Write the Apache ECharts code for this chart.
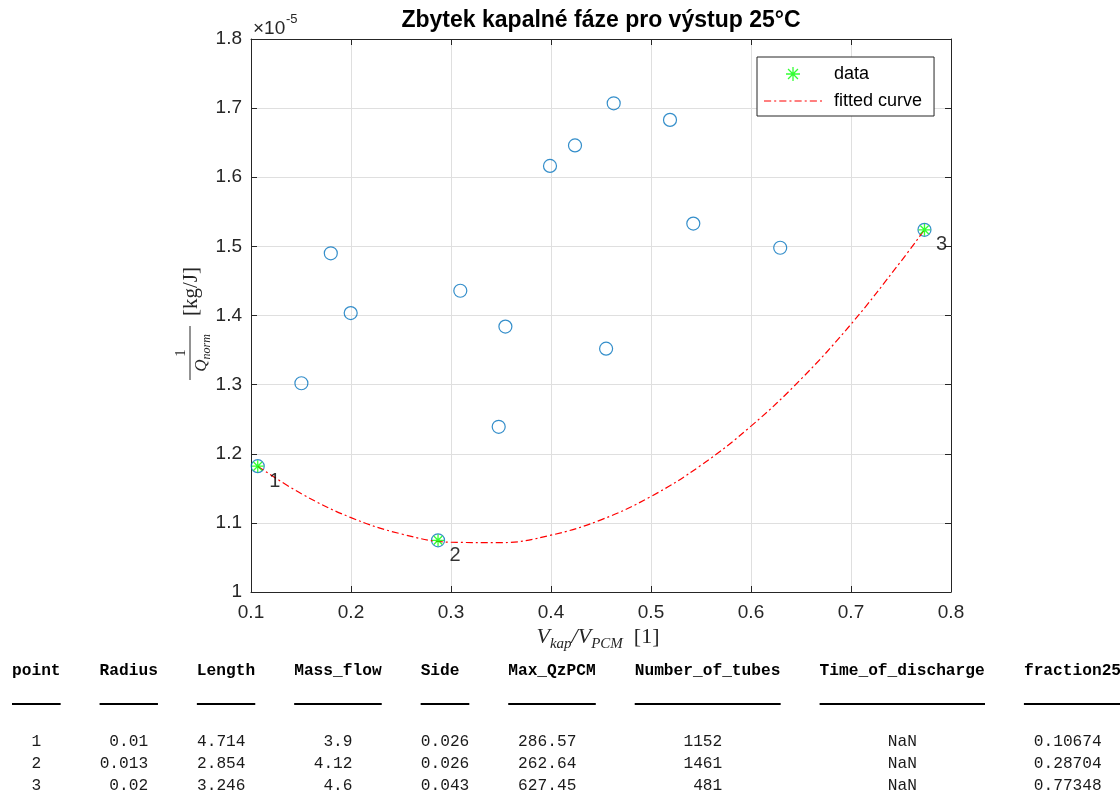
<!DOCTYPE html>
<html><head><meta charset="utf-8">
<script src="https://cdn.jsdelivr.net/npm/echarts@6/dist/echarts.min.js"></script>
<style>html,body{margin:0;padding:0;background:#fff}#c{width:1120px;height:796px}</style>
</head><body><div id="c"></div>
<script>
// ---------- data ----------
const chartTitle = 'Zbytek kapalné fáze pro výstup 25°C';
const yExponent = '-5';
// all candidate designs (y in units of 1e-5 kg/J)
const candX = [0.10674, 0.1504, 0.1798, 0.1997, 0.28704, 0.3093, 0.3477, 0.3544, 0.3990, 0.4240, 0.4627, 0.4551, 0.5190, 0.5423, 0.6292, 0.77348];
const candY = [1.182, 1.302, 1.490, 1.4035, 1.0748, 1.4358, 1.239, 1.384, 1.6164, 1.646, 1.707, 1.352, 1.683, 1.533, 1.498, 1.524];
// selected points
const selX = [0.10674, 0.28704, 0.77348];
const selY = [1.182, 1.0748, 1.524];
const selLabels = ['1', '2', '3'];
// fitted curve
const fitX = [0.10674, 0.15, 0.2, 0.25, 0.3, 0.35, 0.4, 0.45, 0.5, 0.55, 0.6, 0.65, 0.7, 0.75, 0.77348];
const fitY = [1.182, 1.1425, 1.1076, 1.0841, 1.0720, 1.0714, 1.0822, 1.1044, 1.1382, 1.1833, 1.2399, 1.3079, 1.3874, 1.4784, 1.524];
// axis ranges / ticks
const xMin = 0.1, xMax = 0.8, xStep = 0.1;
const yMin = 1.0, yMax = 1.8, yStep = 0.1;
const legendNames = ['data', 'fitted curve'];
// table
const tableHeaders = ['point', 'Radius', 'Length', 'Mass_flow', 'Side', 'Max_QzPCM', 'Number_of_tubes', 'Time_of_discharge', 'fraction25'];
const colPoint = ['1', '2', '3'];
const colRadius = ['0.01', '0.013', '0.02'];
const colLength = ['4.714', '2.854', '3.246'];
const colMassFlow = ['3.9', '4.12', '4.6'];
const colSide = ['0.026', '0.026', '0.043'];
const colMaxQz = ['286.57', '262.64', '627.45'];
const colTubes = ['1152', '1461', '481'];
const colTime = ['NaN', 'NaN', 'NaN'];
const colFraction = ['0.10674', '0.28704', '0.77348'];

// ---------- chart ----------
const chart = echarts.init(document.getElementById('c'));
const AX = '#262626';
const SANS = '"Liberation Sans", Arial, sans-serif';
const SERIF = '"Liberation Serif", "DejaVu Serif", serif';
const MONO = '"Liberation Mono", "DejaVu Sans Mono", monospace';
const asterisk = 'path://M5,0L5,10M0,5L10,5M1.46,1.46L8.54,8.54M1.46,8.54L8.54,1.46';
const dashPattern = [7, 3, 2, 3];

// legend icon for the dash-dot line: filled segments following the dash pattern
function dashIconPath(width, h) {
  let d = '', x = 0, k = 0;
  while (x < width) {
    const len = dashPattern[k % dashPattern.length];
    if (k % 2 === 0) {
      const x2 = Math.min(width, x + len);
      d += 'M' + x + ',0L' + x2 + ',0L' + x2 + ',' + h + 'L' + x + ',' + h + 'Z';
    }
    x += len; k++;
  }
  return 'path://' + d;
}

const candData = candX.map((x, i) => [x, candY[i]]);
const selData = selX.map((x, i) => ({ value: [x, selY[i]], name: selLabels[i] }));
const fitData = fitX.map((x, i) => [x, fitY[i]]);

function fmt(v) { return String(+v.toFixed(2)); }

const baseX = { type: 'value', min: xMin, max: xMax, interval: xStep };
const baseY = { type: 'value', min: yMin, max: yMax, interval: yStep };

// ---------- table graphic ----------
const tableCols = [colPoint, colRadius, colLength, colMassFlow, colSide, colMaxQz, colTubes, colTime, colFraction];
const cw = 9.73, tx0 = 12, headY = 671, lineY = 703, rowY = [742, 764, 786];
const tableEls = [];
let tx = tx0;
tableHeaders.forEach((h, ci) => {
  const vals = tableCols[ci];
  const blockW = Math.max(...vals.map(s => s.length));
  const colW = Math.max(h.length, blockW);
  const pad = Math.floor((colW - blockW) / 2);
  tableEls.push({ type: 'text', x: tx, y: headY, style: { text: h, font: 'bold 16.2px ' + MONO, fill: '#000', align: 'left', textAlign: 'left', verticalAlign: 'middle', textVerticalAlign: 'middle' } });
  tableEls.push({ type: 'rect', shape: { x: tx, y: lineY, width: colW * cw, height: 2 }, style: { fill: '#000' } });
  const rx = tx + (pad + blockW) * cw;
  vals.forEach((v, ri) => {
    tableEls.push({ type: 'text', x: rx, y: rowY[ri], style: { text: v, font: '16.2px ' + MONO, fill: '#1a1a1a', align: 'right', textAlign: 'right', verticalAlign: 'middle', textVerticalAlign: 'middle' } });
  });
  tx += (colW + 4) * cw;
});

const option = {
  animation: false,
  backgroundColor: '#fff',
  grid: { left: 251, right: 169, top: 39, bottom: 204, show: false },
  xAxis: [
    Object.assign({}, baseX, {
      position: 'bottom',
      axisLine: { show: true, onZero: false, lineStyle: { color: AX, width: 1 } },
      axisTick: { show: true, inside: true, length: 6, lineStyle: { color: AX } },
      axisLabel: { show: true, color: AX, fontSize: 19, fontFamily: SANS, margin: 11, formatter: fmt },
      splitLine: { show: true, lineStyle: { color: '#dfdfdf', width: 1 } }
    }),
    Object.assign({}, baseX, {
      position: 'top',
      axisLine: { show: true, onZero: false, lineStyle: { color: AX, width: 1 } },
      axisTick: { show: true, inside: true, length: 6, lineStyle: { color: AX } },
      axisLabel: { show: false },
      splitLine: { show: false }
    })
  ],
  yAxis: [
    Object.assign({}, baseY, {
      position: 'left',
      axisLine: { show: true, onZero: false, lineStyle: { color: AX, width: 1 } },
      axisTick: { show: true, inside: true, length: 6, lineStyle: { color: AX } },
      axisLabel: { show: true, color: AX, fontSize: 19, fontFamily: SANS, margin: 9, formatter: fmt },
      splitLine: { show: true, lineStyle: { color: '#dfdfdf', width: 1 } }
    }),
    Object.assign({}, baseY, {
      position: 'right',
      axisLine: { show: true, onZero: false, lineStyle: { color: AX, width: 1 } },
      axisTick: { show: true, inside: true, length: 6, lineStyle: { color: AX } },
      axisLabel: { show: false },
      splitLine: { show: false }
    })
  ],
  legend: {
    orient: 'vertical',
    left: 757, top: 57,
    padding: [8, 12, 6, 7],
    itemWidth: 58, itemHeight: 14, itemGap: 9,
    symbolKeepAspect: true,
    backgroundColor: '#fff',
    borderColor: AX, borderWidth: 1, borderRadius: 0,
    textStyle: { fontSize: 18, fontFamily: SANS, color: '#000', lineHeight: 16, padding: [0, 0, 0, 7] },
    data: [
      { name: legendNames[0], icon: asterisk, itemStyle: { color: 'rgba(0,0,0,0)', borderColor: '#00ff00', borderWidth: 1.3 } },
      { name: legendNames[1], icon: dashIconPath(58, 1.2), itemStyle: { color: '#ff0000', borderWidth: 0, borderColor: 'rgba(0,0,0,0)' } }
    ]
  },
  series: [
    {
      name: 'candidates', type: 'scatter', data: candData,
      symbol: 'circle', symbolSize: 13,
      itemStyle: { color: 'rgba(0,0,0,0)', borderColor: '#0072BD', borderWidth: 1.2 },
      z: 2
    },
    {
      name: legendNames[1], type: 'line', data: fitData,
      smooth: 0.4, showSymbol: false, symbol: 'none',
      lineStyle: { color: '#ff0000', width: 1.2, type: dashPattern },
      itemStyle: { color: '#ff0000' },
      z: 3
    },
    {
      name: legendNames[0], type: 'scatter', data: selData,
      symbol: asterisk, symbolSize: 12,
      itemStyle: { color: 'rgba(0,0,0,0)', borderColor: '#00ff00', borderWidth: 1.3 },
      label: { show: true, position: 'inside', offset: [17, 15], formatter: p => p.name, fontSize: 20, fontFamily: SANS, color: '#000' },
      z: 4
    }
  ],
  graphic: [
    { type: 'text', x: 601, y: 21, style: { text: chartTitle, font: 'bold 23px ' + SANS, fill: '#000', align: 'center', textAlign: 'center', verticalAlign: 'middle', textVerticalAlign: 'middle' } },
    { type: 'text', x: 253, y: 29, style: { text: '×10', font: '19px ' + SANS, fill: AX, align: 'left', textAlign: 'left', verticalAlign: 'middle', textVerticalAlign: 'middle' } },
    { type: 'text', x: 286, y: 19, style: { text: yExponent, font: '13px ' + SANS, fill: AX, align: 'left', textAlign: 'left', verticalAlign: 'middle', textVerticalAlign: 'middle' } },
    // x axis label
    { type: 'text', x: 598, y: 637, style: {
        text: '{i|V}{s|kap}{i|/V}{s|PCM}{n|  [1]}', align: 'center', textAlign: 'center', verticalAlign: 'middle', textVerticalAlign: 'middle',
        rich: {
          i: { fontSize: 22, fontStyle: 'italic', fontFamily: SERIF, fill: AX, color: AX, lineHeight: 30, verticalAlign: 'middle' },
          s: { fontSize: 15, fontStyle: 'italic', fontFamily: SERIF, fill: AX, color: AX, lineHeight: 15, verticalAlign: 'bottom' },
          n: { fontSize: 22, fontFamily: SERIF, fill: AX, color: AX, lineHeight: 30, verticalAlign: 'middle' }
        } } },
    // y axis label (rotated)
    { type: 'group', x: 190, y: 316, rotation: Math.PI / 2, children: [
        { type: 'text', x: 0, y: 1, style: { text: '[kg/J]', font: '21px ' + SERIF, fill: AX, align: 'left', textAlign: 'left', verticalAlign: 'middle', textVerticalAlign: 'middle' } },
        { type: 'line', shape: { x1: -64, y1: 0, x2: -10, y2: 0 }, style: { stroke: AX, lineWidth: 1 } },
        { type: 'text', x: -37, y: -1, style: { text: '1', font: '15px ' + SERIF, fill: AX, align: 'center', textAlign: 'center', verticalAlign: 'bottom', textVerticalAlign: 'bottom' } },
        { type: 'text', x: -37, y: 1, style: {
            text: '{q|Q}{s|norm}', align: 'center', textAlign: 'center', verticalAlign: 'top', textVerticalAlign: 'top',
            rich: {
              q: { fontSize: 17, fontStyle: 'italic', fontFamily: SERIF, fill: AX, lineHeight: 22, verticalAlign: 'middle' },
              s: { fontSize: 12, fontStyle: 'italic', fontFamily: SERIF, fill: AX, lineHeight: 12, verticalAlign: 'bottom' }
            } } }
      ] }
  ].concat(tableEls)
};
chart.setOption(option);
</script>
</body></html>
